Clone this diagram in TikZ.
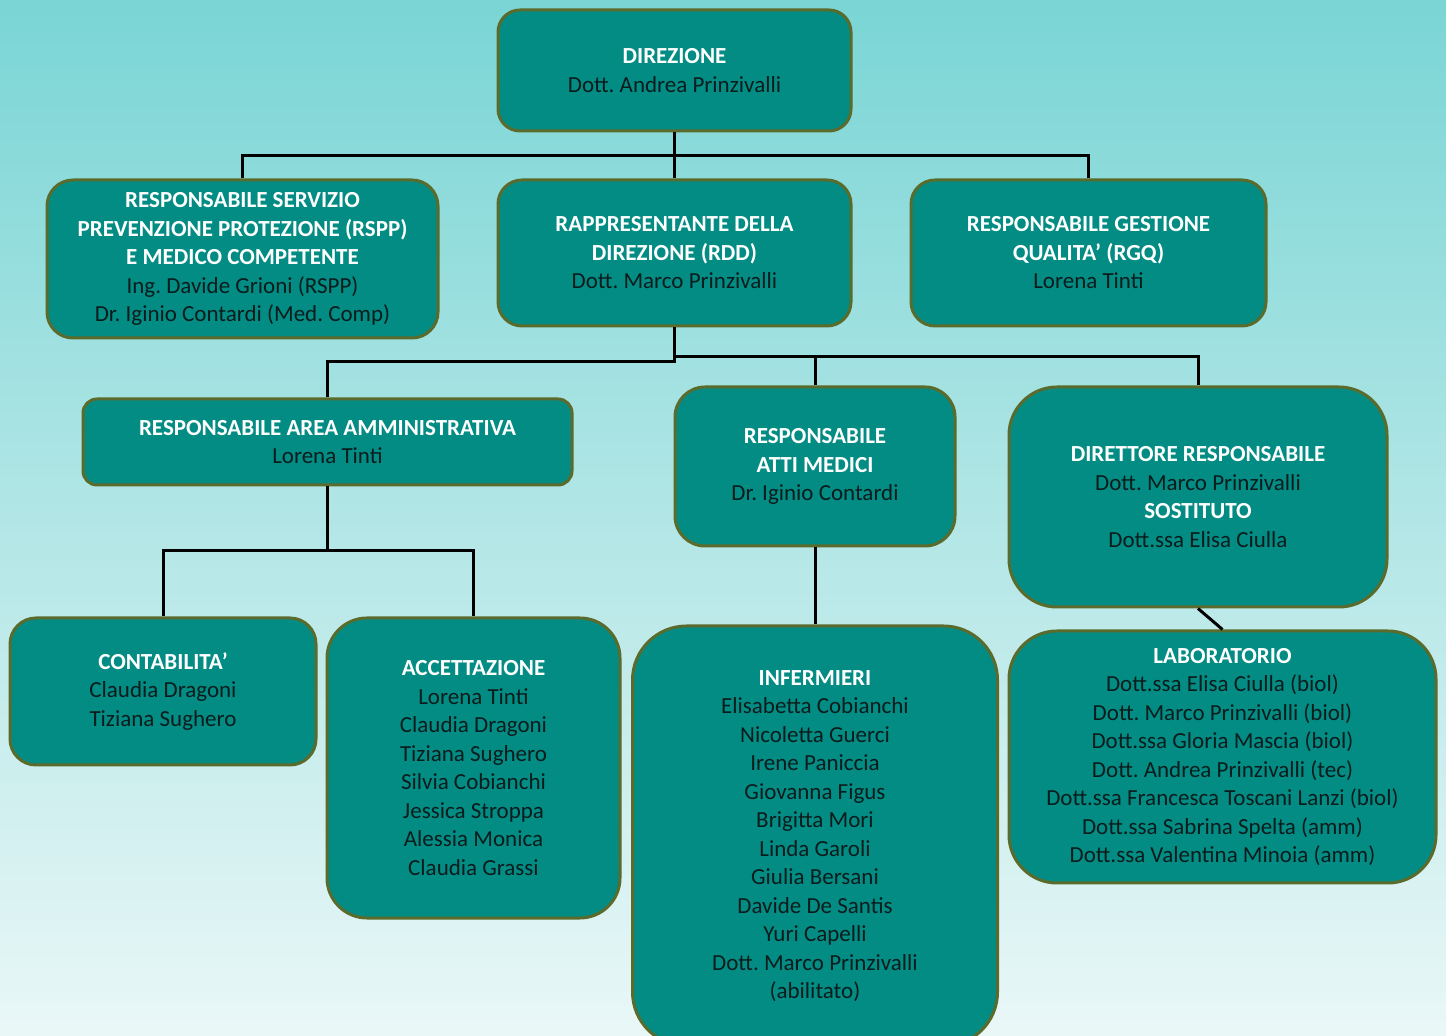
\documentclass[tikz,border=0pt]{standalone}
\usepackage{fontspec}
\setmainfont{Carlito}
\usetikzlibrary{calc}
\frenchspacing
\definecolor{unitfill}{HTML}{038C84}
\definecolor{unitline}{HTML}{5B6B2C}
\definecolor{bgtop}{HTML}{7AD5D5}
\definecolor{bgbottom}{HTML}{EAF7F7}
\definecolor{nametext}{HTML}{0B1C1C}
\tikzstyle{unit} = [rectangle, rounded corners=12pt, fill=unitfill, draw=unitline, line width=1.5pt, align=center, text=nametext, inner sep=0pt, font=\fontsize{11.5}{14.25}\selectfont]
\tikzstyle{link} = [line width=1.5pt, black]
\newcommand{\ttl}[1]{{\color{white}\bfseries #1}}

\begin{document}
\begin{tikzpicture}[x=0.5pt, y=-0.5pt]

  % background
  \useasboundingbox (0,0) rectangle (1446,1036);
  \clip (0,0) rectangle (1446,1036);
  \shade [top color=bgtop, bottom color=bgbottom] (0,0) rectangle (1446,1036);

  % first level
  \node [unit, minimum width=176.5pt, minimum height=60.5pt, rounded corners=11pt] (dir) at (674.5,70.5) {\ttl{DIREZIONE}\\Dott. Andrea Prinzivalli};

  \node [unit, minimum width=195.5pt, minimum height=79pt, rounded corners=13pt] (rspp) at (242.5,259) {\ttl{RESPONSABILE SERVIZIO}\\\ttl{PREVENZIONE PROTEZIONE (RSPP)}\\\ttl{E MEDICO COMPETENTE}\\Ing. Davide Grioni (RSPP)\\Dr. Iginio Contardi (Med. Comp)};

  \node [unit, minimum width=176.5pt, minimum height=73pt, rounded corners=12pt] (rdd) at (674.5,253) {\ttl{RAPPRESENTANTE DELLA}\\\ttl{DIREZIONE (RDD)}\\Dott. Marco Prinzivalli};

  \node [unit, minimum width=177.5pt, minimum height=73pt, rounded corners=12pt] (rgq) at (1088.5,253) {\ttl{RESPONSABILE GESTIONE}\\\ttl{QUALITA’ (RGQ)}\\Lorena Tinti};

  % second level
  \node [unit, minimum width=244.5pt, minimum height=43pt, rounded corners=7pt] (amm) at (327.5,442) {\ttl{RESPONSABILE AREA AMMINISTRATIVA}\\Lorena Tinti};

  \node [unit, minimum width=140pt, minimum height=79.5pt, rounded corners=15pt] (atti) at (815,466.5) {\ttl{RESPONSABILE}\\\ttl{ATTI MEDICI}\\Dr. Iginio Contardi};

  \node [unit, minimum width=189pt, minimum height=110pt, rounded corners=24pt] (resp) at (1198,497) {\ttl{DIRETTORE RESPONSABILE}\\Dott. Marco Prinzivalli\\\ttl{SOSTITUTO}\\Dott.ssa Elisa Ciulla};

  % third level
  \node [unit, minimum width=153pt, minimum height=73.5pt, rounded corners=13pt] (cont) at (163,691.5) {\ttl{CONTABILITA’}\\Claudia Dragoni\\Tiziana Sughero};

  \node [unit, minimum width=146.5pt, minimum height=150pt, rounded corners=20pt] (acc) at (473.5,768) {\ttl{ACCETTAZIONE}\\Lorena Tinti\\Claudia Dragoni\\Tiziana Sughero\\Silvia Cobianchi\\Jessica Stroppa\\Alessia Monica\\Claudia Grassi};

  \node [unit, minimum width=182.5pt, minimum height=210pt, rounded corners=27pt] (inf) at (815,836) {\ttl{INFERMIERI}\\Elisabetta Cobianchi\\Nicoletta Guerci\\Irene Paniccia\\Giovanna Figus\\Brigitta Mori\\Linda Garoli\\Giulia Bersani\\Davide De Santis\\Yuri Capelli\\Dott. Marco Prinzivalli\\(abilitato)};

  \node [unit, minimum width=213.5pt, minimum height=126pt, rounded corners=24pt] (lab) at (1222.5,757) {\ttl{LABORATORIO}\\Dott.ssa Elisa Ciulla (biol)\\Dott. Marco Prinzivalli (biol)\\Dott.ssa Gloria Mascia (biol)\\Dott. Andrea Prinzivalli (tec)\\Dott.ssa Francesca Toscani Lanzi (biol)\\Dott.ssa Sabrina Spelta (amm)\\Dott.ssa Valentina Minoia (amm)};

  % buses
  \coordinate (busTop) at (674.5,156);
  \coordinate (busLeft) at (674.5,362);
  \coordinate (busRight) at (674.5,357);
  \coordinate (busAmm) at (327.5,551);

  % connectors
  \draw [link] (dir.south) -- (busTop);
  \draw [link] (rspp.north) |- (busTop) -| (rgq.north);
  \draw [link] (busTop) -- (rdd.north);

  \draw [link] (rdd.south) -- (busLeft) -| (amm.north);
  \draw [link] (busRight) -| (atti.north);
  \draw [link] (busRight) -| (resp.north);

  \draw [link] (amm.south) -- (busAmm);
  \draw [link] (cont.north) |- (busAmm) -| (acc.north);

  \draw [link] (atti.south) -- (inf.north);
  \draw [link] (resp.south) -- (lab.north);

\end{tikzpicture}
\end{document}
